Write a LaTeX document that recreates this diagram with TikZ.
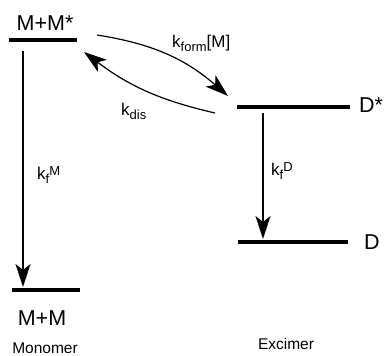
\documentclass[tikz,border=0pt]{standalone}
\usepackage{fontspec}
\setmainfont{Liberation Sans}
\usetikzlibrary{arrows.meta}
% rate-constant sub- and superscripts
\newcommand{\rsub}[1]{\raisebox{-4pt}{\fontsize{13}{13}\selectfont #1}}
\newcommand{\rsup}[1]{\raisebox{4pt}{\fontsize{13}{13}\selectfont #1}}
\begin{document}
\begin{tikzpicture}[x=1pt,y=1pt,
  level/.style={line width=4pt},
  trans/.style={line width=1.2pt,-{Stealth[length=23pt,width=15pt,inset=6pt]}},
  bigtxt/.style={inner sep=0pt,font=\fontsize{21.5}{22}\selectfont},
  captxt/.style={inner sep=0pt,font=\fontsize{15.5}{16}\selectfont},
  ratetxt/.style={inner sep=0pt,anchor=west,font=\fontsize{17}{17}\selectfont}]
\useasboundingbox (0,0) rectangle (384,-356);

% energy levels
\coordinate (mxa) at (9,-40);   \coordinate (mxb) at (77,-40);
\coordinate (mga) at (12,-290); \coordinate (mgb) at (80,-290);
\coordinate (dxa) at (237,-107); \coordinate (dxb) at (350,-107);
\coordinate (dga) at (238,-242); \coordinate (dgb) at (348,-242);
\draw[level] (mxa) -- (mxb);
\draw[level] (mga) -- (mgb);
\draw[level] (dxa) -- (dxb);
\draw[level] (dga) -- (dgb);

% level labels
\node[bigtxt] (lmx) at (45,-23) {M+M*};
\node[bigtxt] (lmg) at (42,-318) {M+M};
\node[bigtxt,anchor=west] (ldx) at (359,-105) {D*};
\node[bigtxt,anchor=west] (ldg) at (364,-242) {D};
\node[captxt] (mono) at (45,-348.5) {Monomer};
\node[captxt] (exci) at (286,-344) {Excimer};

% transitions
\coordinate (ms) at (23,-51);  \coordinate (me) at (23,-287);
\coordinate (ds) at (263,-113); \coordinate (de) at (263,-239);
\draw[trans] (ms) -- (me);
\draw[trans] (ds) -- (de);

\coordinate (fs) at (97,-35);  \coordinate (fe) at (228,-96);
\coordinate (bs) at (215,-113); \coordinate (be) at (84,-52);
\draw[trans] (fs) to[bend left=16] (fe);
\draw[trans] (bs) to[bend left=12] (be);

% rate constants
\node[ratetxt] (kfm) at (37,-175) {k\rsub{f}\rsup{M}};
\node[ratetxt] (kfd) at (271,-171) {k\rsub{f}\rsup{D}};
\node[ratetxt] (kform) at (172,-43) {k\rsub{form}[M]};
\node[ratetxt] (kdis) at (121,-111) {k\rsub{dis}};
\end{tikzpicture}
\end{document}
